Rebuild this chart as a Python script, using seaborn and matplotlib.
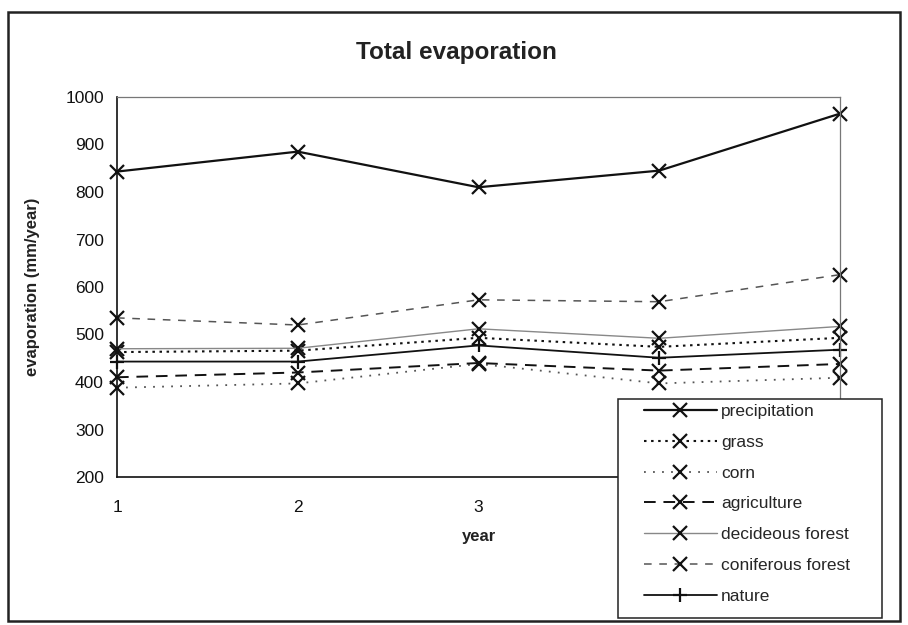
import matplotlib
matplotlib.use("Agg")
import matplotlib.pyplot as plt
import matplotlib.patches as mpatches
import seaborn as sns
import pandas as pd

years = [1, 2, 3, 4, 5]
precipitation = [843, 885, 810, 845, 965]
grass = [463, 466, 493, 474, 493]
corn = [388, 397, 438, 397, 409]
agriculture = [410, 420, 440, 424, 438]
decideous_forest = [470, 471, 512, 492, 517]
coniferous_forest = [535, 520, 573, 569, 626]
nature = [443, 443, 477, 451, 468]

series_names = ["precipitation", "grass", "corn", "agriculture",
                "decideous forest", "coniferous forest", "nature"]
series_values = [precipitation, grass, corn, agriculture,
                 decideous_forest, coniferous_forest, nature]
y_ticks = [200, 300, 400, 500, 600, 700, 800, 900, 1000]

styles = {
    "precipitation": dict(color="#111111", linestyle="-", lw=1.6, marker="x"),
    "grass": dict(color="#111111", linestyle=(0, (1.2, 2.2)), lw=1.5, marker="x"),
    "corn": dict(color="#555555", linestyle=(0, (1, 4)), lw=1.3, marker="x"),
    "agriculture": dict(color="#111111", linestyle=(0, (6, 4)), lw=1.4, marker="x"),
    "decideous forest": dict(color="#888888", linestyle="-", lw=1.0, marker="x"),
    "coniferous forest": dict(color="#555555", linestyle=(0, (5, 5)), lw=1.1, marker="x"),
    "nature": dict(color="#111111", linestyle="-", lw=1.3, marker="+"),
}

sns.set_style("white")
plt.rcParams["font.family"] = ["Liberation Sans", "DejaVu Sans"]

W, H = 908, 625
fig = plt.figure(figsize=(W / 100, H / 100), dpi=100)
ax = fig.add_axes([117 / W, 1 - 477 / H, (840 - 117) / W, (477 - 97) / H])

for name, vals in zip(series_names, series_values):
    df = pd.DataFrame({"year": years, "evap": vals})
    st = styles[name]
    sns.lineplot(data=df, x="year", y="evap", ax=ax, label=name,
                 color=st["color"], linestyle=st["linestyle"], linewidth=st["lw"],
                 marker=st["marker"], markersize=10, markeredgewidth=1.6,
                 markeredgecolor="#111111", markerfacecolor="none", clip_on=False)

ax.set_xlim(1, 5)
ax.set_ylim(200, 1000)
ax.set_xticks(years)
ax.set_yticks(y_ticks)
ax.tick_params(axis="both", direction="inout", length=9, width=1.0,
               labelsize=12.5, colors="#111111")
ax.tick_params(axis="y", pad=5)
ax.tick_params(axis="x", pad=12)
for s in ["left", "bottom"]:
    ax.spines[s].set_color("#111111")
    ax.spines[s].set_linewidth(1.2)
for s in ["top", "right"]:
    ax.spines[s].set_color("#777777")
    ax.spines[s].set_linewidth(0.9)
ax.set_xlabel("year", fontsize=12, fontweight="bold", labelpad=10, color="#222222")
ax.set_ylabel("evaporation (mm/year)", fontsize=12, fontweight="bold", labelpad=18,
              color="#222222")
fig.text(456 / W, 1 - 52 / H, "Total evaporation", fontsize=17.5, fontweight="bold",
         ha="center", va="center", color="#222222")

ax.get_legend().remove()
handles, labels = ax.get_legend_handles_labels()
leg = fig.legend(handles, labels, loc="upper left",
                 bbox_to_anchor=(630 / W, 1 - 390 / H), bbox_transform=fig.transFigure,
                 frameon=False, fontsize=12.5, handlelength=4.2, handletextpad=0.25,
                 labelspacing=0.9, borderpad=0.3)

# legend box
fig.patches.append(mpatches.Rectangle((618 / W, 1 - 618 / H), (882 - 618) / W,
                                      (618 - 399) / H, transform=fig.transFigure,
                                      facecolor="white", edgecolor="#222222",
                                      lw=1.1, zorder=2))
leg.set_zorder(5)
# outer frame
fig.patches.append(mpatches.Rectangle((8 / W, 1 - 621 / H), (900 - 8) / W,
                                      (621 - 12) / H, transform=fig.transFigure,
                                      facecolor="none", edgecolor="#222222",
                                      lw=1.8, zorder=3))

fig.savefig("out.png", dpi=100)
